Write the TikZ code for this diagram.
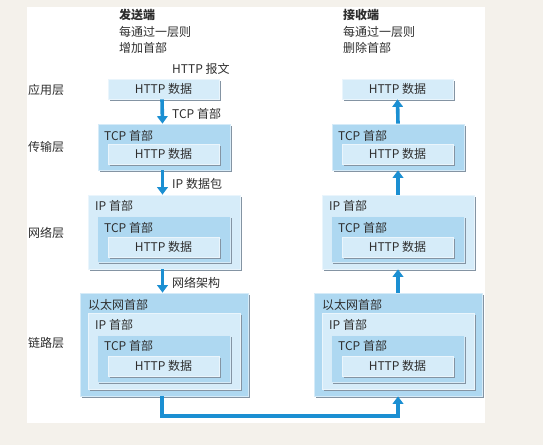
\documentclass[tikz,border=0pt]{standalone}
\usepackage{fontspec}
\setmainfont{Noto Sans CJK SC}
\usetikzlibrary{shadows,arrows.meta,fit}
\definecolor{bgout}{HTML}{F4F1EB}
\definecolor{lightbox}{HTML}{D6ECF9}
\definecolor{midbox}{HTML}{AED8F1}
\definecolor{shadowc}{HTML}{8494A3}
\definecolor{arrowc}{HTML}{1B8FD2}
\definecolor{txt}{HTML}{2E2E2E}
\tikzset{
  every node/.style={font=\fontsize{12}{14}\selectfont, text=txt},
  pkt/.style={rectangle, inner sep=0pt, draw=white!50!#1, line width=0.7pt, fill=#1,
    general shadow={fill=shadowc, shadow xshift=1.8pt, shadow yshift=-1.8pt}},
  lbl/.style={inner sep=0pt, anchor=west},
  ctr/.style={inner sep=0pt},
  flow/.style={draw=arrowc, line width=3.6pt, -{Triangle[width=10.5pt,length=7.5pt]}},
}
\begin{document}
\begin{tikzpicture}[x=1pt,y=-1pt]
\useasboundingbox[fill=bgout] (0,0) rectangle (543,445);
\fill[white] (27,7) rectangle (485,423);

% titles
\node[lbl, font=\fontsize{12}{14}\selectfont\bfseries] (st) at (119,15) {发送端};
\node[lbl] (st2) at (119,32) {每通过一层则};
\node[lbl] (st3) at (119,48) {增加首部};
\node[lbl, font=\fontsize{12}{14}\selectfont\bfseries] (rt) at (343,15) {接收端};
\node[lbl] (rt2) at (343,32) {每通过一层则};
\node[lbl] (rt3) at (343,48) {删除首部};

% layer labels
\node[lbl] (l1) at (28,90) {应用层};
\node[lbl] (l2) at (28,147) {传输层};
\node[lbl] (l3) at (28,233) {网络层};
\node[lbl] (l4) at (28,343) {链路层};

% ===== sender =====
% application
\node[pkt=lightbox, fit={(108,79) (219,99)}] (sa) {};
\node[ctr] (sat) at (sa.center) {HTTP 数据};
% transport
\node[pkt=midbox, fit={(98,124) (230,170)}] (sb) {};
\node[lbl] (sbt) at (104,136) {TCP 首部};
\node[pkt=lightbox, fit={(108,144) (219,164)}] (sbh) {};
\node[ctr] (sbht) at (sbh.center) {HTTP 数据};
% network
\node[pkt=lightbox, fit={(88,195) (240,269)}] (sc) {};
\node[lbl] (sct) at (95,206) {IP 首部};
\node[pkt=midbox, fit={(97,216) (230,262)}] (sct2) {};
\node[lbl] (sct2t) at (104,228) {TCP 首部};
\node[pkt=lightbox, fit={(108,237) (219,257)}] (sch) {};
\node[ctr] (scht) at (sch.center) {HTTP 数据};
% link
\node[pkt=midbox, fit={(80,293) (248,396)}] (sd) {};
\node[lbl] (sdt) at (88,305) {以太网首部};
\node[pkt=lightbox, fit={(88,313) (240,389)}] (sdi) {};
\node[lbl] (sdit) at (95,325) {IP 首部};
\node[pkt=midbox, fit={(97,335) (230,382)}] (sdc) {};
\node[lbl] (sdct) at (104,346) {TCP 首部};
\node[pkt=lightbox, fit={(108,356) (219,376)}] (sdh) {};
\node[ctr] (sdht) at (sdh.center) {HTTP 数据};

% ===== receiver =====
\node[pkt=lightbox, fit={(342,79) (453,99)}] (ra) {};
\node[ctr] (rat) at (ra.center) {HTTP 数据};
\node[pkt=midbox, fit={(332,124) (464,170)}] (rb) {};
\node[lbl] (rbt) at (338,136) {TCP 首部};
\node[pkt=lightbox, fit={(342,144) (453,164)}] (rbh) {};
\node[ctr] (rbht) at (rbh.center) {HTTP 数据};
\node[pkt=lightbox, fit={(322,195) (474,269)}] (rc) {};
\node[lbl] (rct) at (329,206) {IP 首部};
\node[pkt=midbox, fit={(331,216) (464,262)}] (rct2) {};
\node[lbl] (rct2t) at (338,228) {TCP 首部};
\node[pkt=lightbox, fit={(342,237) (453,257)}] (rch) {};
\node[ctr] (rcht) at (rch.center) {HTTP 数据};
\node[pkt=midbox, fit={(314,293) (482,396)}] (rd) {};
\node[lbl] (rdt) at (322,305) {以太网首部};
\node[pkt=lightbox, fit={(322,313) (474,389)}] (rdi) {};
\node[lbl] (rdit) at (329,325) {IP 首部};
\node[pkt=midbox, fit={(331,335) (464,382)}] (rdc) {};
\node[lbl] (rdct) at (338,346) {TCP 首部};
\node[pkt=lightbox, fit={(342,356) (453,376)}] (rdh) {};
\node[ctr] (rdht) at (rdh.center) {HTTP 数据};

% arrow labels
\node[lbl] (m0) at (172,69) {HTTP 报文};
\node[lbl] (m1) at (172,114) {TCP 首部};
\node[lbl] (m2) at (172,184) {IP 数据包};
\node[lbl] (m3) at (172,283) {网络架构};

% arrows sender
\draw[flow] ([xshift=-1.5pt]sa.south) -- ([xshift=-1.5pt]sb.north);
\draw[flow] ([xshift=-1.5pt]sb.south) -- ([xshift=-1.5pt]sc.north);
\draw[flow] ([xshift=-1.5pt]sc.south) -- ([xshift=-1.5pt]sd.north);
% arrows receiver
\draw[flow] (rb.north) -- (ra.south);
\draw[flow] (rc.north) -- (rb.south);
\draw[flow] (rd.north) -- (rc.south);
% bottom link
\coordinate (bl) at (162,416);
\coordinate (br) at (398,416);
\draw[flow] ([xshift=-2pt]sd.south) -- (bl) -- (br) -- (rd.south);
\end{tikzpicture}
\end{document}
